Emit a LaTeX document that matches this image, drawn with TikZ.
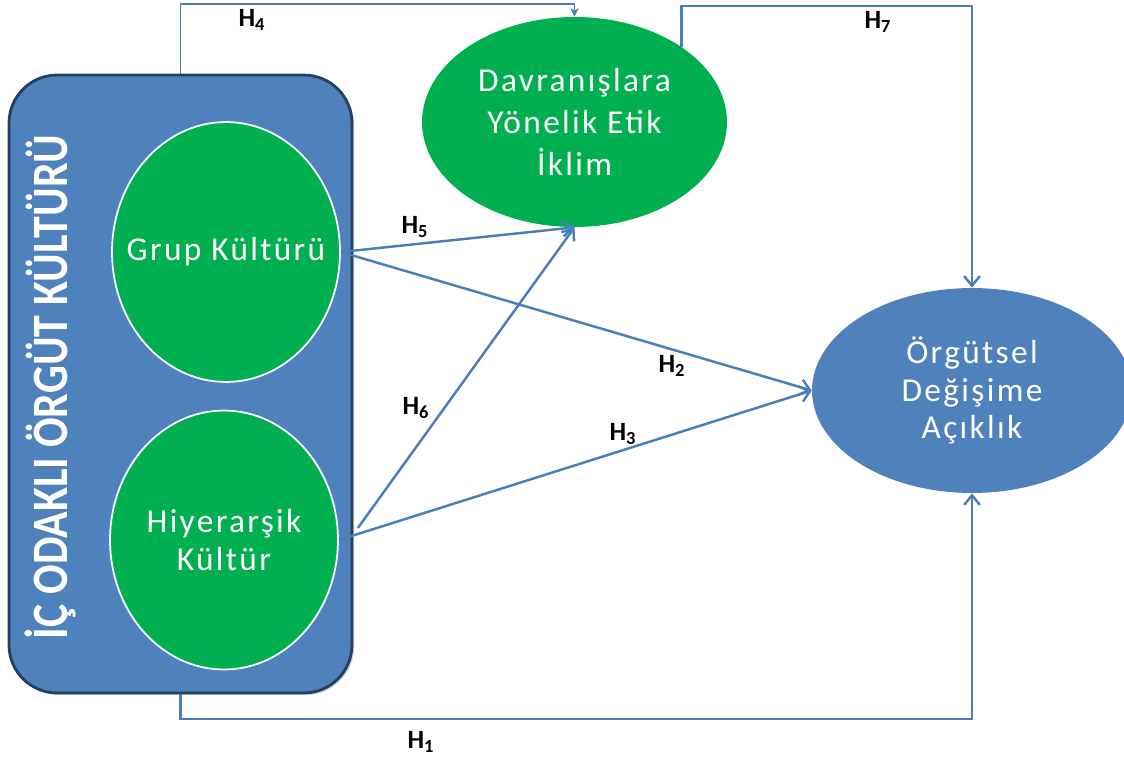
\documentclass[tikz,border=0pt]{standalone}
\usepackage{fontspec}
\setmainfont{Carlito}
\newfontfamily\spacedfont[LetterSpace=7]{Carlito}
\newfontfamily\titlefont[FakeStretch=0.86]{Carlito}
\usetikzlibrary{arrows.meta, shapes.geometric, calc, shadows}
\usepackage{xcolor}
\definecolor{ppBlue}{HTML}{4F81BD}
\definecolor{ppGreen}{HTML}{00B050}
\definecolor{ppNavy}{HTML}{243F60}
\definecolor{ppLine}{HTML}{4A7EBB}
\tikzset{
    >={Straight Barb[length=5.5pt,width=9pt]},
    % Shapes
    outerBox/.style={rectangle, draw=ppNavy, line width=1.6pt, fill=ppBlue, rounded corners=0.96cm,
                     minimum width=6.86cm, minimum height=12.36cm,
                     drop shadow={opacity=0.35, shadow xshift=1.2pt, shadow yshift=-1.2pt}},
    cultEll/.style={ellipse, draw=white, line width=1pt, fill=ppGreen, inner sep=0pt, inner xsep=-0.9cm,
                    align=center, text=white, font=\spacedfont\fontsize{19}{21.5}\selectfont},
    varEll/.style={ellipse, inner sep=0pt, align=center, text=white,
                   font=\spacedfont\fontsize{19}{21.5}\selectfont},
    % Flow & Labels
    hyp/.style={->, line width=1.4pt, ppLine},
    hypThin/.style={-{Stealth[length=5pt,width=5pt]}, line width=0.6pt, ppLine},
    hlbl/.style={font=\bfseries\fontsize{15}{15}\selectfont, inner sep=1pt}
}

\begin{document}
\begin{tikzpicture}[x=0.02cm, y=-0.02cm]

\useasboundingbox (0,0) rectangle (1124,760);

\node[outerBox] (box) at (180.5,384) {};
\node[rotate=90, text=white, font=\titlefont\bfseries\fontsize{29}{29}\selectfont] (title) at (50,387) {İÇ ODAKLI ÖRGÜT KÜLTÜRÜ};

\node[cultEll, minimum width=4.56cm, minimum height=5.2cm] (grup) at (226,252) {Grup Kültürü};
\node[cultEll, minimum width=4.56cm, minimum height=5.18cm] (hier) at (224,540) {Hiyerarşik\\Kültür};

\node[varEll, fill=ppGreen, minimum width=6.1cm, minimum height=4.2cm,
      font=\spacedfont\fontsize{19}{24}\selectfont] (etik) at (574.5,122) {Davranışlara\\Yönelik Etik\\İklim};
\node[varEll, fill=ppBlue, minimum width=6.4cm, minimum height=4.1cm] (acik) at (972,390.5) {Örgütsel\\Değişime\\Açıklık};

\coordinate (h6start) at ($(hier.east)+(19,-12)$);

\draw[hypThin] (box.north) -- (box.north |- 0,4) -| (etik.north);
\draw[hyp] (etik.35) -- (etik.35 |- 0,6) -| (acik.north);
\draw[hyp] (grup.east) -- (etik.south);
\draw[hyp] (grup.east) -- (acik.west);
\draw[hyp] (h6start) -- (etik.south);
\draw[hyp] (hier.east) -- (acik.west);
\draw[hyp] (box.south) -- (box.south |- 0,719) -| (acik.south);

\node[hlbl] (h4) at (252,20) {H\textsubscript{4}};
\node[hlbl] (h7) at (878,22) {H\textsubscript{7}};
\node[hlbl] (h5) at (415,227) {H\textsubscript{5}};
\node[hlbl] (h2) at (672,366) {H\textsubscript{2}};
\node[hlbl] (h6) at (416,408) {H\textsubscript{6}};
\node[hlbl] (h3) at (623,434) {H\textsubscript{3}};
\node[hlbl] (h1) at (421,742) {H\textsubscript{1}};

\end{tikzpicture}
\end{document}
